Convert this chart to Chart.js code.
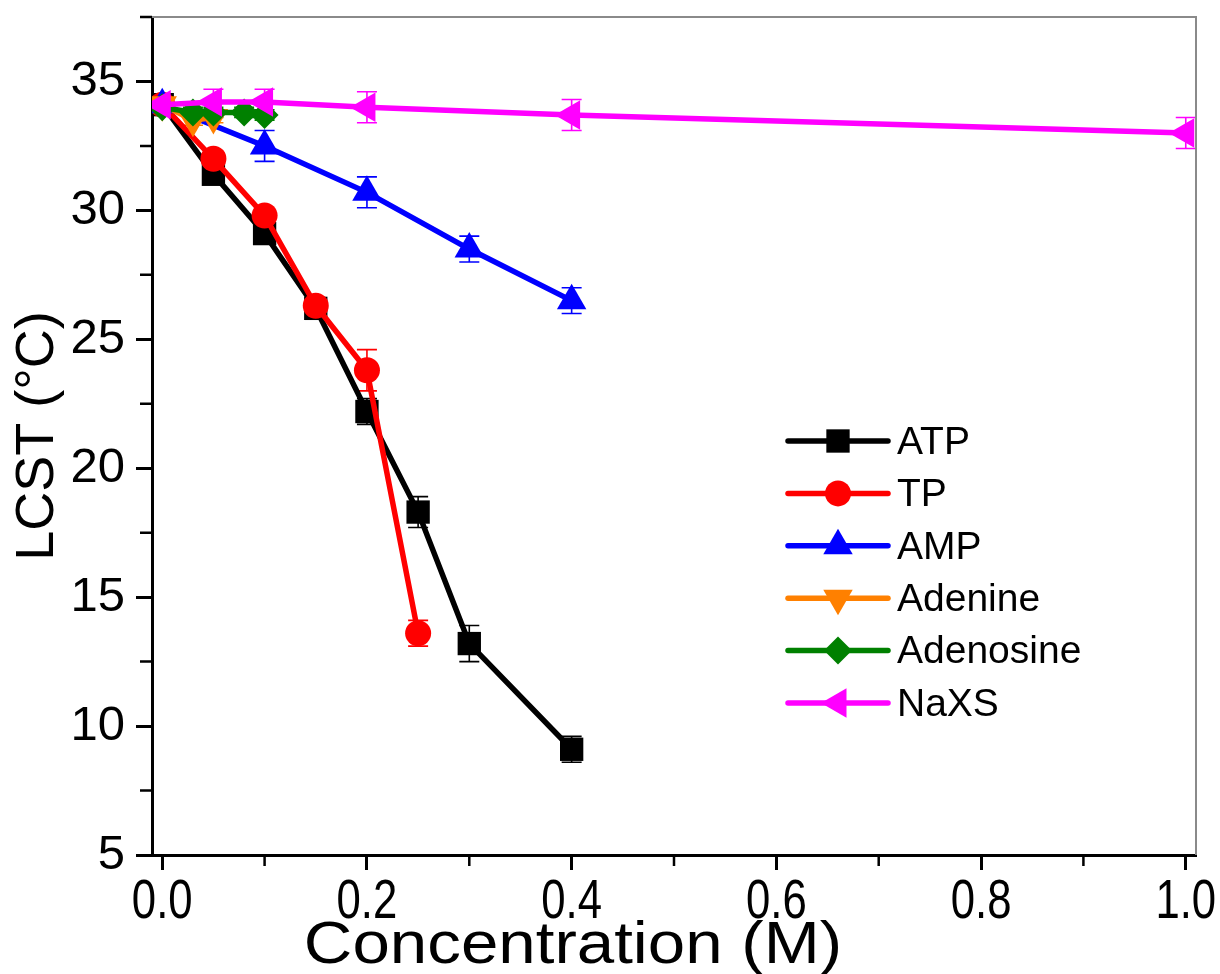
<!DOCTYPE html>
<html>
<head>
<meta charset="utf-8">
<title>LCST vs concentration</title>
<script src="https://cdn.jsdelivr.net/npm/chart.js@4.4.1/dist/chart.umd.min.js"></script>
<style>
  html, body { margin: 0; padding: 0; background: #ffffff; }
  #wrap { width: 1220px; height: 974px; }
</style>
</head>
<body>
<div id="wrap"><canvas id="chart" width="1220" height="974"></canvas></div>
<script>
// ---- data: LCST (°C) against additive concentration (M) ----
const seriesNames = ['ATP', 'TP', 'AMP', 'Adenine', 'Adenosine', 'NaXS'];

const atpConc = [0, 0.05, 0.10, 0.15, 0.20, 0.25, 0.30, 0.40];
const atpLcst = [34.1, 31.4, 29.1, 26.2, 22.2, 18.3, 13.2, 9.1];
const atpErr  = [0.2, 0.3, 0.3, 0.4, 0.5, 0.6, 0.7, 0.5];

const tpConc = [0, 0.05, 0.10, 0.15, 0.20, 0.25];
const tpLcst = [34.1, 32.0, 29.8, 26.3, 23.8, 13.6];
const tpErr  = [0.2, 0.3, 0.2, 0.3, 0.8, 0.5];

const ampConc = [0, 0.10, 0.20, 0.30, 0.40];
const ampLcst = [34.1, 32.5, 30.7, 28.5, 26.5];
const ampErr  = [0.2, 0.6, 0.6, 0.5, 0.5];

const adenineConc = [0, 0.03, 0.05];
const adenineLcst = [34.1, 33.5, 33.6];
const adenineErr  = [0.2, 0.2, 0.2];

const adenosineConc = [0, 0.03, 0.05, 0.08, 0.10];
const adenosineLcst = [34.0, 33.8, 33.8, 33.8, 33.7];
const adenosineErr  = [0.2, 0.2, 0.2, 0.2, 0.2];

const naxsConc = [0, 0.05, 0.10, 0.20, 0.40, 1.00];
const naxsLcst = [34.1, 34.2, 34.2, 34.0, 33.7, 33.0];
const naxsErr  = [0.2, 0.5, 0.5, 0.6, 0.6, 0.6];

const xMajorTicks = [0, 0.2, 0.4, 0.6, 0.8, 1.0];
const xTickLabels = ['0.0', '0.2', '0.4', '0.6', '0.8', '1.0'];
const xMinorTicks = [0.1, 0.3, 0.5, 0.7, 0.9];
const yMajorTicks = [5, 10, 15, 20, 25, 30, 35];
const yMinorTicks = [7.5, 12.5, 17.5, 22.5, 27.5, 32.5, 37.5];

const xAxisTitle = 'Concentration (M)';
const yAxisTitle = 'LCST (°C)';

// ---- styling ----
const seriesStyles = [
  { color: '#000000', pointStyle: 'rect',     rotation: 0,   radius: 16.5 },
  { color: '#ff0000', pointStyle: 'circle',   rotation: 0,   radius: 13 },
  { color: '#0000ff', pointStyle: 'triangle', rotation: 0,   radius: 17 },
  { color: '#ff8000', pointStyle: 'triangle', rotation: 180, radius: 17 },
  { color: '#008000', pointStyle: 'rectRot',  rotation: 0,   radius: 14 },
  { color: '#ff00ff', pointStyle: 'triangle', rotation: -90, radius: 17 }
];

const xs = [atpConc, tpConc, ampConc, adenineConc, adenosineConc, naxsConc];
const ys = [atpLcst, tpLcst, ampLcst, adenineLcst, adenosineLcst, naxsLcst];
const errs = [atpErr, tpErr, ampErr, adenineErr, adenosineErr, naxsErr];

const datasets = seriesNames.map((name, i) => {
  const st = seriesStyles[i];
  return {
    label: name,
    data: xs[i].map((x, k) => ({ x: x, y: ys[i][k] })),
    errors: errs[i],
    borderColor: st.color,
    backgroundColor: st.color,
    borderWidth: 5.5,
    pointStyle: st.pointStyle,
    pointRotation: st.rotation,
    pointRadius: st.radius,
    pointHoverRadius: st.radius,
    pointBorderWidth: 0,
    pointBackgroundColor: st.color,
    tension: 0,
    // later series sit on top of earlier ones
    order: seriesNames.length - i
  };
});

const FONT = "'Liberation Sans', Arial, Helvetica, sans-serif";

// vertical error bars with caps, drawn from each dataset's errors array
const errorBarPlugin = {
  id: 'errorBars',
  beforeDatasetsDraw(chart) {
    const { ctx, chartArea: a, scales: { x, y } } = chart;
    ctx.save();
    ctx.beginPath();
    ctx.rect(a.left, a.top, a.right - a.left, a.bottom - a.top);
    ctx.clip();
    chart.data.datasets.forEach(ds => {
      ctx.strokeStyle = ds.borderColor;
      ctx.lineWidth = 1.6;
      ds.data.forEach((p, k) => {
        const e = ds.errors[k];
        const px = x.getPixelForValue(p.x);
        const top = y.getPixelForValue(p.y + e);
        const bot = y.getPixelForValue(p.y - e);
        ctx.beginPath();
        ctx.moveTo(px, top); ctx.lineTo(px, bot);
        ctx.moveTo(px - 10, top); ctx.lineTo(px + 10, top);
        ctx.moveTo(px - 10, bot); ctx.lineTo(px + 10, bot);
        ctx.stroke();
      });
    });
    ctx.restore();
  }
};

// minor ticks, thin top/right frame, x tick labels and x title
const framePlugin = {
  id: 'frame',
  afterDraw(chart) {
    const { ctx, chartArea: a, scales: { x, y } } = chart;
    ctx.save();
    ctx.strokeStyle = '#000000';
    ctx.lineWidth = 2.5;
    ctx.beginPath();
    xMinorTicks.forEach(v => {
      const px = x.getPixelForValue(v);
      ctx.moveTo(px, a.bottom); ctx.lineTo(px, a.bottom + 11);
    });
    yMinorTicks.forEach(v => {
      const py = y.getPixelForValue(v);
      ctx.moveTo(a.left, py); ctx.lineTo(a.left - 12, py);
    });
    ctx.stroke();
    ctx.strokeStyle = '#8a8a8a';
    ctx.lineWidth = 2;
    ctx.beginPath();
    ctx.moveTo(a.left, a.top); ctx.lineTo(a.right, a.top); ctx.lineTo(a.right, a.bottom);
    ctx.stroke();

    // x tick labels, set in a narrow face
    ctx.fillStyle = '#000000';
    ctx.font = '56px ' + FONT;
    ctx.textAlign = 'center';
    ctx.textBaseline = 'alphabetic';
    xMajorTicks.forEach((v, i) => {
      const px = x.getPixelForValue(v);
      ctx.save();
      ctx.translate(px, 918);
      ctx.scale(0.78, 1);
      ctx.fillText(xTickLabels[i], 0, 0);
      ctx.restore();
    });

    // x axis title, slightly widened
    ctx.save();
    ctx.font = '59px ' + FONT;
    ctx.translate(573, 963);
    ctx.scale(1.14, 1);
    ctx.fillText(xAxisTitle, 0, 0);
    ctx.restore();
    ctx.restore();
  }
};

// legend: line sample with the series marker, then the name
const legendPlugin = {
  id: 'lineLegend',
  afterDraw(chart) {
    const { ctx } = chart;
    const x0 = 788, x1 = 888, textX = 897, rowTop = 441, rowGap = 52.4;
    ctx.save();
    ctx.font = '39px ' + FONT;
    ctx.textBaseline = 'middle';
    chart.data.datasets.forEach((ds, i) => {
      const yy = rowTop + i * rowGap;
      ctx.strokeStyle = ds.borderColor;
      ctx.lineWidth = 5.5;
      ctx.lineCap = 'round';
      ctx.beginPath();
      ctx.moveTo(x0, yy); ctx.lineTo(x1, yy);
      ctx.stroke();
      ctx.fillStyle = ds.pointBackgroundColor;
      Chart.helpers.drawPoint(ctx, {
        pointStyle: ds.pointStyle,
        rotation: ds.pointRotation,
        radius: ds.pointRadius,
        borderWidth: 0
      }, (x0 + x1) / 2, yy);
      ctx.fillStyle = '#000000';
      ctx.fillText(ds.label, textX, yy + 2);
    });
    ctx.restore();
  }
};

new Chart(document.getElementById('chart'), {
  type: 'line',
  data: { datasets: datasets },
  options: {
    responsive: false,
    animation: false,
    devicePixelRatio: 1,
    layout: { padding: { left: 0, right: 24, top: 14, bottom: 0 } },
    plugins: {
      legend: { display: false },
      tooltip: { enabled: false }
    },
    scales: {
      x: {
        type: 'linear',
        min: -0.01,
        max: 1.01,
        afterBuildTicks(scale) { scale.ticks = xMajorTicks.map(v => ({ value: v })); },
        afterFit(scale) {
          scale.height = 119;
          scale.paddingLeft = 0; scale.paddingRight = 0;
        },
        border: { display: true, color: '#000000', width: 3 },
        grid: { display: true, drawOnChartArea: false, drawTicks: true,
                tickLength: 15, tickWidth: 3, tickColor: '#000000' },
        ticks: { display: false },
        title: { display: false }
      },
      y: {
        type: 'linear',
        min: 5,
        max: 37.5,
        afterBuildTicks(scale) { scale.ticks = yMajorTicks.map(v => ({ value: v })); },
        afterFit(scale) {
          scale.width = 152;
          scale.paddingTop = 0; scale.paddingBottom = 0;
        },
        border: { display: true, color: '#000000', width: 3 },
        grid: { display: true, drawOnChartArea: false, drawTicks: true,
                tickLength: 16, tickWidth: 3, tickColor: '#000000' },
        ticks: {
          autoSkip: false,
          padding: 11,
          color: '#000000',
          font: { family: FONT, size: 49 },
          callback: v => String(v)
        },
        title: {
          display: true,
          text: yAxisTitle,
          color: '#000000',
          font: { family: FONT, size: 54 },
          padding: { top: 6, bottom: 0 }
        }
      }
    }
  },
  plugins: [errorBarPlugin, framePlugin, legendPlugin]
});
</script>
</body>
</html>
